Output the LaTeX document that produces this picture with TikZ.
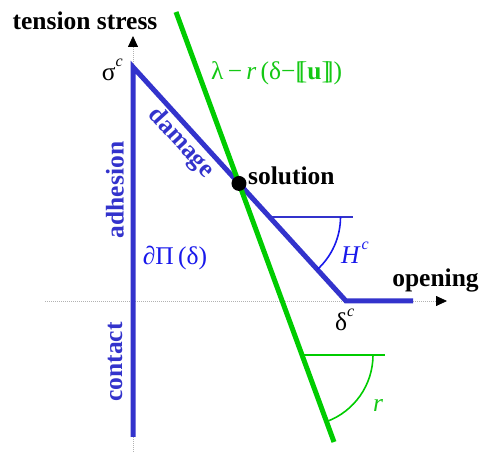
\documentclass[tikz,border=0pt]{standalone}
\usepackage{fontspec}
\setmainfont{Liberation Serif}
\usetikzlibrary{arrows.meta}
\definecolor{lblue}{RGB}{51,51,204}
\definecolor{hblue}{RGB}{25,25,235}
\definecolor{lgreen}{RGB}{0,204,0}
\definecolor{tgreen}{RGB}{20,200,20}
\newcommand\myfs{\fontsize{25.5}{30}\selectfont}
\newcommand\dlb{[\kern-0.2em[}
\newcommand\drb{]\kern-0.2em]}
\newcommand\supc{\raisebox{0.55em}{\fontsize{16}{18}\selectfont\textit{c}}}
\begin{document}
\begin{tikzpicture}[x=1pt,y=-1pt,
  axis/.style={gray!60, line width=0.8pt, dash pattern=on 1pt off 1pt,
    -{Triangle[length=11pt,width=10pt,black,fill=black]}},
  bline/.style={lblue, line width=5pt, line join=miter},
  gline/.style={lgreen, line width=5pt},
  lab/.style={font=\myfs, inner sep=0pt},
  blab/.style={font=\myfs\bfseries, inner sep=0pt}]
\useasboundingbox (0,0) rectangle (480,457);
% axes
\coordinate (ytop) at (133,36);
\coordinate (ybot) at (133,452);
\coordinate (xl) at (45,301);
\coordinate (xr) at (447,301);
\draw[axis] (ybot) -- (ytop);
\draw[axis] (xl) -- (xr);
% blue law
\coordinate (sc) at (133,67);
\coordinate (bot) at (133,437);
\coordinate (dc) at (346,301);
\coordinate (dend) at (413,301);
\draw[bline] (bot) -- (sc) -- (dc) -- (dend);
% green line
\coordinate (g1) at (176,12);
\coordinate (g2) at (334,442);
\draw[gline] (g1) -- (g2);
% H^c angle
\coordinate (h0) at (269.5,217);
\coordinate (h1) at (353,217);
\draw[lblue, line width=2.5pt] (h0) -- (h1);
\draw[hblue, line width=1.6pt] ([xshift=71pt]h0) arc[start angle=0, end angle=-47.7, radius=71pt];
% r angle
\coordinate (r0) at (302,355);
\coordinate (r1) at (385,355);
\draw[lgreen, line width=2.5pt] (r0) -- (r1);
\draw[lgreen, line width=1.6pt] ([xshift=71pt]r0) arc[start angle=0, end angle=-69.8, radius=71pt];
% solution
\node[circle, fill=black, minimum size=15pt, inner sep=0pt] (sol) at (intersection of sc--dc and g1--g2) {};
% labels
\node[blab, anchor=base] (ts) at (85,29.5) {tension stress};
\node[blab, anchor=base] (op) at (435.5,287) {opening};
\node[blab, anchor=base west] (solt) at (248,185) {solution};
\node[lab, anchor=base east] (sigc) at (123,81) {σ\supc};
\node[lab, anchor=base west] (delc) at (335,331) {δ\supc};
\node[lab, text=tgreen, anchor=west] (form) at (211,73) {λ\,−\,\textit{r}\,(δ−\dlb\textbf{u}\drb)};
\node[blab, text=lblue, rotate=-47.7] (dam) at (181,143) {damage};
\node[blab, text=lblue, rotate=90] (adh) at (115,190) {adhesion};
\node[blab, text=lblue, rotate=90] (con) at (115,362) {contact};
\node[lab, text=hblue] (dpi) at (175,258) {∂Π\,(δ)};
\node[lab, text=hblue] (hc) at (355,253) {\textit{H}\kern1pt\supc};
\node[lab, text=tgreen] (rl) at (378,405) {\textit{r}};
\end{tikzpicture}
\end{document}
